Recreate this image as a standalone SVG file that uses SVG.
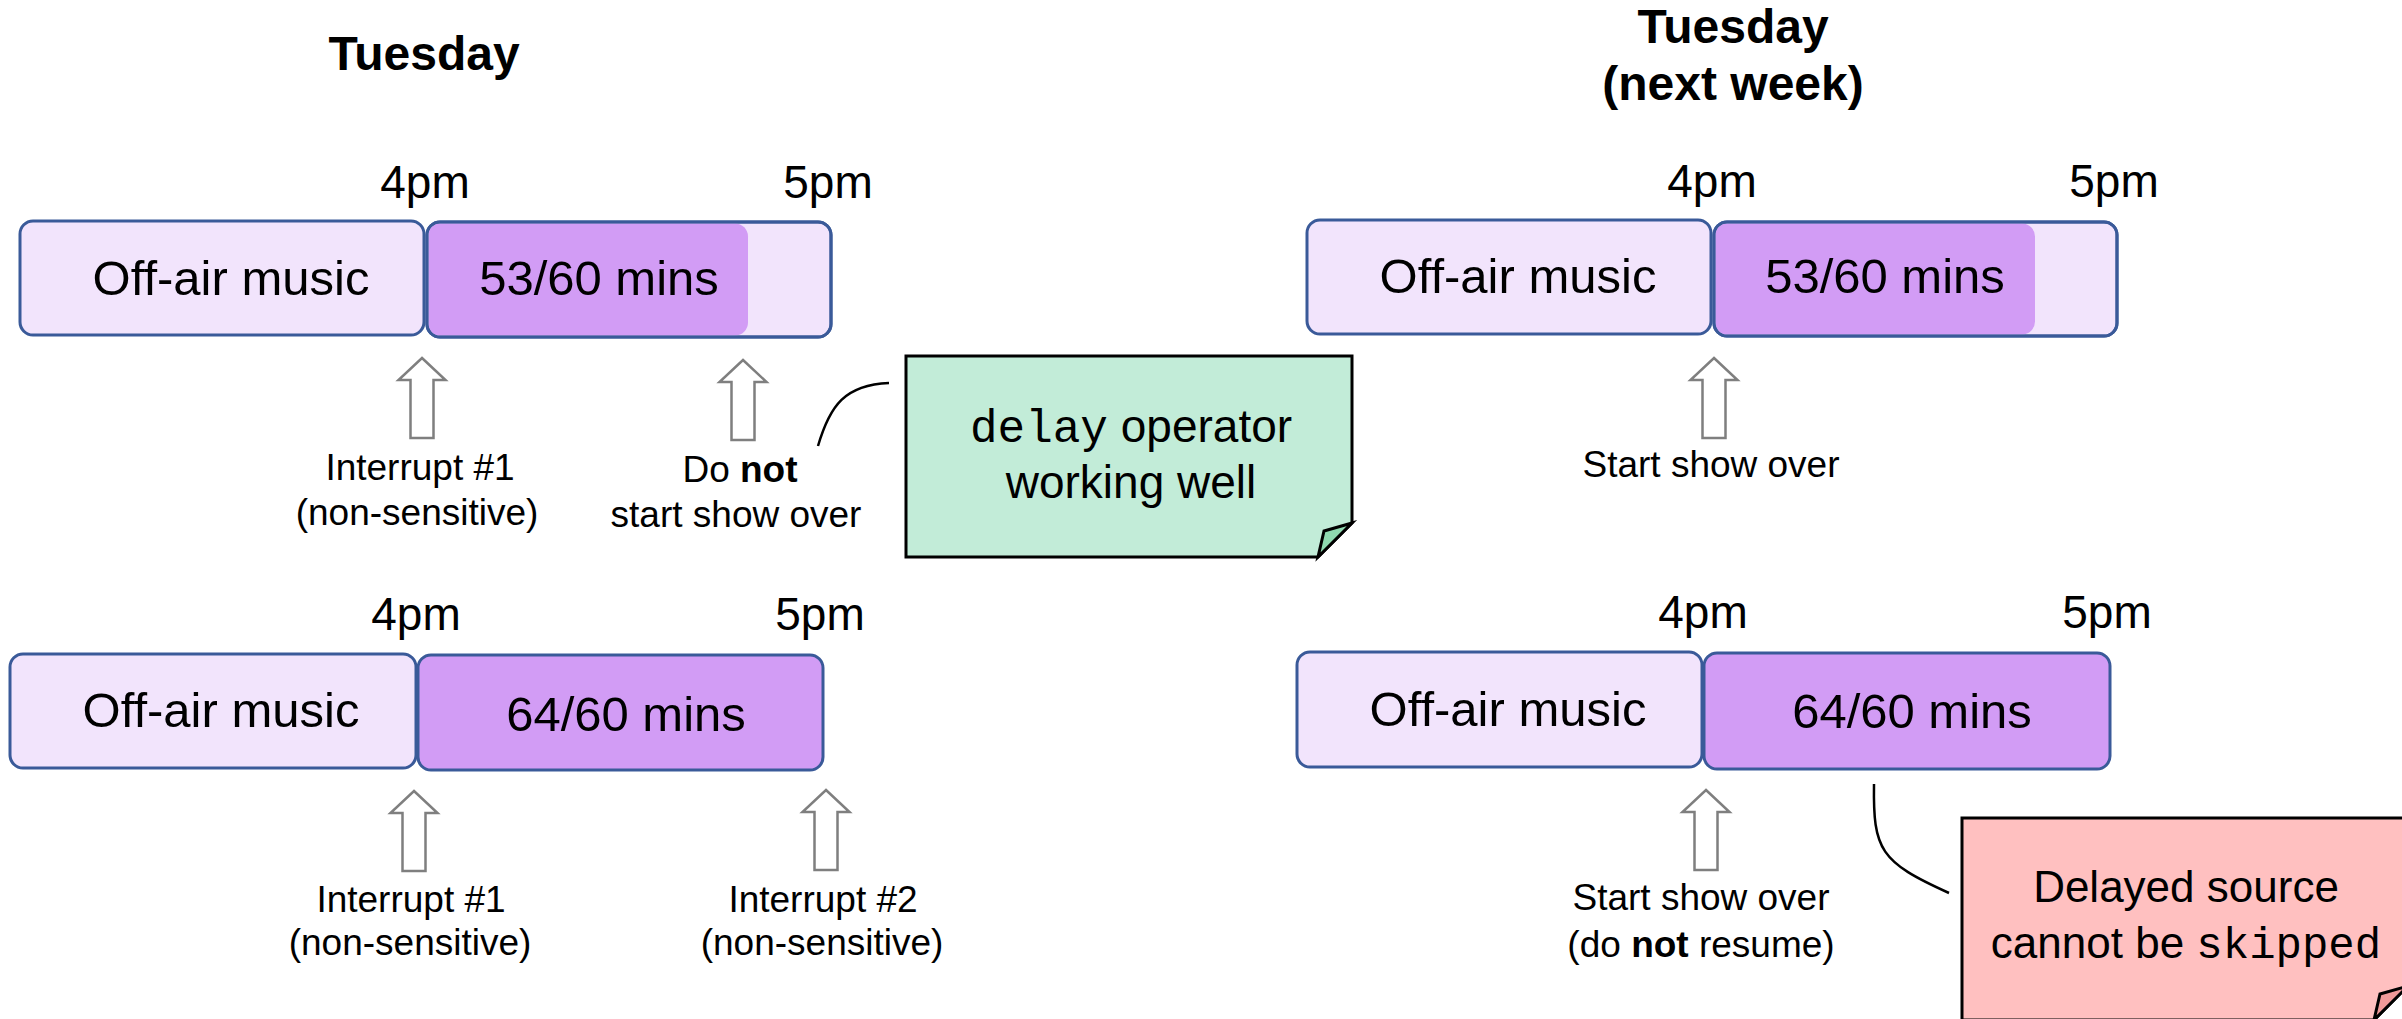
<svg xmlns="http://www.w3.org/2000/svg" width="2402" height="1019" viewBox="0 0 2402 1019">
<style>
text{font-family:"Liberation Sans",Arial,sans-serif;fill:#000}
.title{font-size:48px;font-weight:bold;text-anchor:middle}
.time{font-size:46px;text-anchor:middle}
.lbl{font-size:49px;text-anchor:middle}
.ann{font-size:37px;text-anchor:middle}
.note{font-size:46px;text-anchor:middle}
.mono{font-family:"Liberation Mono","Courier New",monospace}
.off{fill:#f2e4fc;stroke:#3a5a99;stroke-width:3}
.show{fill:#d29cf5;stroke:#3a5a99;stroke-width:3}
.showbg{fill:#f2e4fc;stroke:#3a5a99;stroke-width:3}
.fill{fill:#d29cf5}
.arrow{fill:#fff;stroke:#7f7f7f;stroke-width:2.5}
.conn{fill:none;stroke:#000;stroke-width:2.5}
.gnote{fill:#c2ecd8;stroke:#000;stroke-width:3;stroke-linejoin:miter}
.gfold{fill:#8fd9b0;stroke:#000;stroke-width:3}
.rnote{fill:#ffc0c0;stroke:#000;stroke-width:3}
.rfold{fill:#f09a9a;stroke:#000;stroke-width:3}
</style>
<defs>
<path id="arr" d="M0,0 L23.5,22 L11.5,22 L11.5,80 L-11.5,80 L-11.5,22 L-23.5,22 Z"/>
</defs>

<g id="title-left"><text class="title" x="424" y="70">Tuesday</text></g>
<g id="title-right"><text class="title" x="1733" y="43">Tuesday</text><text class="title" x="1733" y="100">(next week)</text></g>

<!-- Upper-left row -->
<g id="ul-times"><text class="time" x="425" y="198">4pm</text><text class="time" x="828" y="198">5pm</text></g>
<g id="ul-offair"><rect class="off" x="20" y="221" width="404" height="114" rx="13"/><text class="lbl" x="231" y="295">Off-air music</text></g>
<g id="ul-show"><rect class="showbg" x="427" y="222" width="404" height="115" rx="13"/><path class="fill" d="M440,223.5 H735 A13,13 0 0 1 748,236.5 V322.5 A13,13 0 0 1 735,335.5 H440 A11.5,11.5 0 0 1 428.5,324 V235 A11.5,11.5 0 0 1 440,223.5 Z"/><rect x="427" y="222" width="404" height="115" rx="13" fill="none" stroke="#3a5a99" stroke-width="3"/><text class="lbl" x="599" y="295">53/60 mins</text></g>
<g id="ul-int1"><use href="#arr" class="arrow" x="422" y="358"/><text class="ann" x="420" y="480">Interrupt #1</text><text class="ann" x="417" y="525">(non-sensitive)</text></g>
<g id="ul-donot"><use href="#arr" class="arrow" x="743" y="360"/><text class="ann" x="740" y="482">Do <tspan font-weight="bold">not</tspan></text><text class="ann" x="736" y="527">start show over</text></g>
<g id="note-green"><path class="gnote" d="M906,356 H1352 V523 L1318,557 H906 Z"/><path class="gfold" d="M1352,523 L1324,531 L1318,557 Z"/><text class="note" x="1131" y="442"><tspan class="mono">delay</tspan> operator</text><text class="note" x="1131" y="498">working well</text></g>

<!-- Upper-right row -->
<g id="ur-times"><text class="time" x="1712" y="197">4pm</text><text class="time" x="2114" y="197">5pm</text></g>
<g id="ur-offair"><rect class="off" x="1307" y="220" width="404" height="114" rx="13"/><text class="lbl" x="1518" y="293">Off-air music</text></g>
<g id="ur-show"><rect class="showbg" x="1714" y="222" width="403" height="114" rx="13"/><path class="fill" d="M1727,223.5 H2022 A13,13 0 0 1 2035,236.5 V321.5 A13,13 0 0 1 2022,334.5 H1727 A11.5,11.5 0 0 1 1715.5,323 V235 A11.5,11.5 0 0 1 1727,223.5 Z"/><rect x="1714" y="222" width="403" height="114" rx="13" fill="none" stroke="#3a5a99" stroke-width="3"/><text class="lbl" x="1885" y="293">53/60 mins</text></g>
<g id="ur-start"><use href="#arr" class="arrow" x="1714" y="358"/><text class="ann" x="1711" y="477">Start show over</text></g>

<!-- Lower-left row -->
<g id="ll-times"><text class="time" x="416" y="630">4pm</text><text class="time" x="820" y="630">5pm</text></g>
<g id="ll-offair"><rect class="off" x="10" y="654" width="406" height="114" rx="13"/><text class="lbl" x="221" y="727">Off-air music</text></g>
<g id="ll-show"><rect class="show" x="418" y="655" width="405" height="115" rx="13"/><text class="lbl" x="626" y="731">64/60 mins</text></g>
<g id="ll-int1"><use href="#arr" class="arrow" x="414" y="791"/><text class="ann" x="411" y="912">Interrupt #1</text><text class="ann" x="410" y="955">(non-sensitive)</text></g>
<g id="ll-int2"><use href="#arr" class="arrow" x="826" y="790"/><text class="ann" x="823" y="912">Interrupt #2</text><text class="ann" x="822" y="955">(non-sensitive)</text></g>

<!-- Lower-right row -->
<g id="lr-times"><text class="time" x="1703" y="628">4pm</text><text class="time" x="2107" y="628">5pm</text></g>
<g id="lr-offair"><rect class="off" x="1297" y="652" width="405" height="115" rx="13"/><text class="lbl" x="1508" y="726">Off-air music</text></g>
<g id="lr-show"><rect class="show" x="1704" y="653" width="406" height="116" rx="13"/><text class="lbl" x="1912" y="728">64/60 mins</text></g>
<g id="lr-start"><use href="#arr" class="arrow" x="1706" y="790"/><text class="ann" x="1701" y="910">Start show over</text><text class="ann" x="1701" y="957">(do <tspan font-weight="bold">not</tspan> resume)</text></g>
<g id="note-red"><path class="rnote" d="M1962,818 H2408 V986 L2374,1020 H1962 Z"/><path class="rfold" d="M2408,986 L2380,994 L2374,1020 Z"/><text class="note" x="2186" y="902" style="font-size:44px">Delayed source</text><text class="note" x="2186" y="958" style="font-size:44px">cannot be <tspan class="mono">skipped</tspan></text></g>

<g id="connectors">
<path class="conn" d="M818,446 C830,405 845,385 889,383"/>
<path class="conn" d="M1874,784 C1873,850 1880,862 1949,893"/>
</g>
</svg>
